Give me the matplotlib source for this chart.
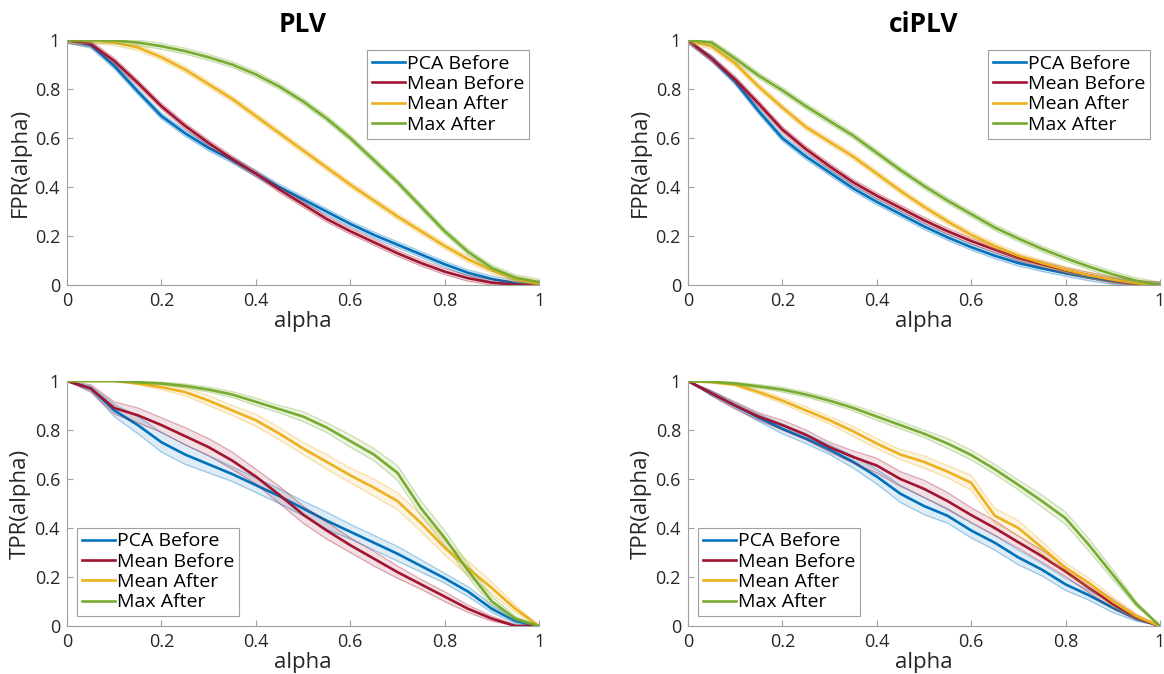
import numpy as np
import matplotlib
matplotlib.use("Agg")
import matplotlib.pyplot as plt

plt.rcParams['font.family'] = ['Open Sans', 'DejaVu Sans']

# #############################################################################
# Data (alpha step 0.05)
alpha = np.linspace(0, 1, 21)
names = ["PCA Before", "Mean Before", "Mean After", "Max After"]
colors = ["#0072BD", "#A2142F", "#EDB120", "#77AC30"]

# PLV, FPR
plv_fpr_pca = [1, .98, .895, .79, .69, .62, .56, .51, .455, .40, .35, .30, .25, .205, .165, .125, .085, .05, .025, .008, 0]
plv_fpr_meanb = [1, .985, .915, .825, .73, .65, .58, .515, .455, .39, .33, .27, .22, .175, .13, .09, .055, .028, .01, .002, 0]
plv_fpr_meana = [1, 1, .99, .97, .93, .88, .82, .76, .69, .62, .55, .48, .41, .345, .28, .22, .16, .105, .06, .025, .005]
plv_fpr_max = [1, 1, .998, .99, .975, .955, .93, .9, .86, .81, .75, .68, .60, .51, .42, .32, .22, .135, .07, .03, .012]

# ciPLV, FPR
ci_fpr_pca = [1, .925, .83, .71, .60, .525, .46, .395, .34, .29, .24, .195, .155, .12, .09, .068, .048, .03, .015, .004, 0]
ci_fpr_meanb = [1, .925, .84, .74, .635, .555, .485, .42, .365, .315, .265, .22, .18, .145, .11, .085, .06, .04, .02, .006, 0]
ci_fpr_meana = [1, .975, .905, .81, .725, .645, .585, .525, .455, .385, .32, .26, .205, .16, .12, .09, .063, .04, .022, .008, 0]
ci_fpr_max = [1, .99, .925, .855, .795, .73, .67, .61, .54, .47, .405, .345, .29, .235, .19, .148, .11, .075, .044, .018, 0]

# PLV, TPR
plv_tpr_pca = [1, .97, .88, .82, .75, .70, .66, .62, .575, .53, .48, .43, .385, .34, .295, .245, .195, .14, .07, .02, 0]
plv_tpr_meanb = [1, .97, .89, .86, .82, .775, .73, .675, .61, .535, .455, .39, .33, .275, .22, .17, .12, .07, .03, 0, 0]
plv_tpr_meana = [1, 1, 1, .99, .975, .955, .92, .88, .84, .785, .725, .67, .615, .565, .51, .42, .32, .235, .155, .07, 0]
plv_tpr_max = [1, 1, 1, .995, .99, .98, .965, .945, .915, .885, .855, .81, .755, .70, .625, .48, .36, .225, .10, .03, 0]

# ciPLV, TPR
ci_tpr_pca = [1, .95, .90, .85, .805, .765, .72, .67, .61, .54, .49, .45, .39, .34, .28, .23, .17, .125, .075, .03, 0]
ci_tpr_meanb = [1, .95, .90, .855, .82, .78, .73, .69, .655, .60, .56, .51, .453, .40, .342, .285, .222, .155, .09, .035, 0]
ci_tpr_meana = [1, .995, .985, .955, .92, .88, .84, .795, .745, .70, .67, .63, .585, .45, .40, .32, .237, .175, .10, .04, 0]
ci_tpr_max = [1, .997, .99, .978, .965, .945, .92, .89, .855, .82, .785, .745, .698, .64, .576, .51, .44, .33, .21, .09, 0]

# band half widths
band_top = [.012, .012, .012, .012]
plv_tpr_band = [
    [0, .01, .025, .035, .04, .04, .035, .03, .03, .03, .03, .035, .03, .03, .03, .025, .02, .02, .015, .01, 0],
    [0, .015, .025, .03, .03, .035, .035, .035, .03, .035, .035, .035, .03, .03, .025, .02, .02, .015, .01, .005, 0],
    [0, 0, 0, .005, .01, .015, .02, .02, .025, .025, .025, .03, .03, .035, .035, .035, .03, .03, .025, .015, 0],
    [0, 0, 0, .003, .005, .008, .01, .012, .015, .015, .02, .02, .025, .025, .03, .03, .03, .025, .02, .01, 0],
]
ci_tpr_band = [
    [0, .01, .01, .015, .02, .02, .02, .025, .03, .035, .035, .03, .03, .03, .03, .025, .025, .02, .02, .01, 0],
    [0, .01, .015, .015, .02, .02, .02, .025, .03, .03, .035, .035, .03, .03, .025, .025, .02, .02, .02, .01, 0],
    [0, .003, .005, .01, .012, .015, .015, .02, .02, .02, .025, .025, .03, .03, .03, .025, .02, .02, .02, .01, 0],
    [0, .002, .005, .007, .01, .01, .012, .012, .015, .015, .015, .02, .02, .02, .02, .025, .025, .025, .02, .01, 0],
]

panels = [
    ("PLV", "FPR(alpha)", [plv_fpr_pca, plv_fpr_meanb, plv_fpr_meana, plv_fpr_max], [[b] * 21 for b in band_top], "upper right"),
    ("ciPLV", "FPR(alpha)", [ci_fpr_pca, ci_fpr_meanb, ci_fpr_meana, ci_fpr_max], [[b] * 21 for b in band_top], "upper right"),
    ("", "TPR(alpha)", [plv_tpr_pca, plv_tpr_meanb, plv_tpr_meana, plv_tpr_max], plv_tpr_band, "lower left"),
    ("", "TPR(alpha)", [ci_tpr_pca, ci_tpr_meanb, ci_tpr_meana, ci_tpr_max], ci_tpr_band, "lower left"),
]

# #############################################################################
# Plot
fig = plt.figure(figsize=(11.64, 6.74), dpi=100)
boxes = [
    [0.0576, 0.577, 0.4055, 0.3635],
    [0.591, 0.577, 0.4055, 0.3635],
    [0.0576, 0.0712, 0.4055, 0.3635],
    [0.591, 0.0712, 0.4055, 0.3635],
]

for box, (title, ylab, series, bands, loc) in zip(boxes, panels):
    ax = fig.add_axes(box)
    for ys, bw, c, n in zip(series, bands, colors, names):
        ys = np.array(ys)
        bw = np.array(bw)
        lo = np.clip(ys - bw, 0, 1)
        hi = np.clip(ys + bw, 0, 1)
        ax.fill_between(alpha, lo, hi, color=c, alpha=0.13, lw=0)
        ax.plot(alpha, lo, color=c, alpha=0.35, lw=0.9)
        ax.plot(alpha, hi, color=c, alpha=0.35, lw=0.9)
        ax.plot(alpha, ys, color=c, lw=1.9, label=n)
    ax.set_xlim(0, 1)
    ax.set_ylim(0, 1)
    ax.set_xticks([0, 0.2, 0.4, 0.6, 0.8, 1])
    ax.set_xticklabels(["0", "0.2", "0.4", "0.6", "0.8", "1"])
    ax.set_yticks([0, 0.2, 0.4, 0.6, 0.8, 1])
    ax.set_yticklabels(["0", "0.2", "0.4", "0.6", "0.8", "1"])
    for s in ["top", "right"]:
        ax.spines[s].set_visible(False)
    for s in ["left", "bottom"]:
        ax.spines[s].set_color("#a0a0a0")
    ax.tick_params(direction="in", length=4, color="#a0a0a0", labelsize=13,
                   labelcolor="#262626", pad=5)
    ax.set_xlabel("alpha", fontsize=16, color="#262626", labelpad=1)
    ax.set_ylabel(ylab, fontsize=16, color="#262626", labelpad=3)
    if title:
        ax.set_title(title, fontsize=19, fontweight="bold", pad=6)
    leg = ax.legend(loc=loc, fontsize=14, fancybox=False, framealpha=1,
                    edgecolor="#a0a0a0", handlelength=1.7, handletextpad=0.1,
                    labelspacing=0.12, borderpad=0.25, borderaxespad=0.5)
    leg.get_frame().set_linewidth(0.8)

fig.savefig("out.png", dpi=100)
